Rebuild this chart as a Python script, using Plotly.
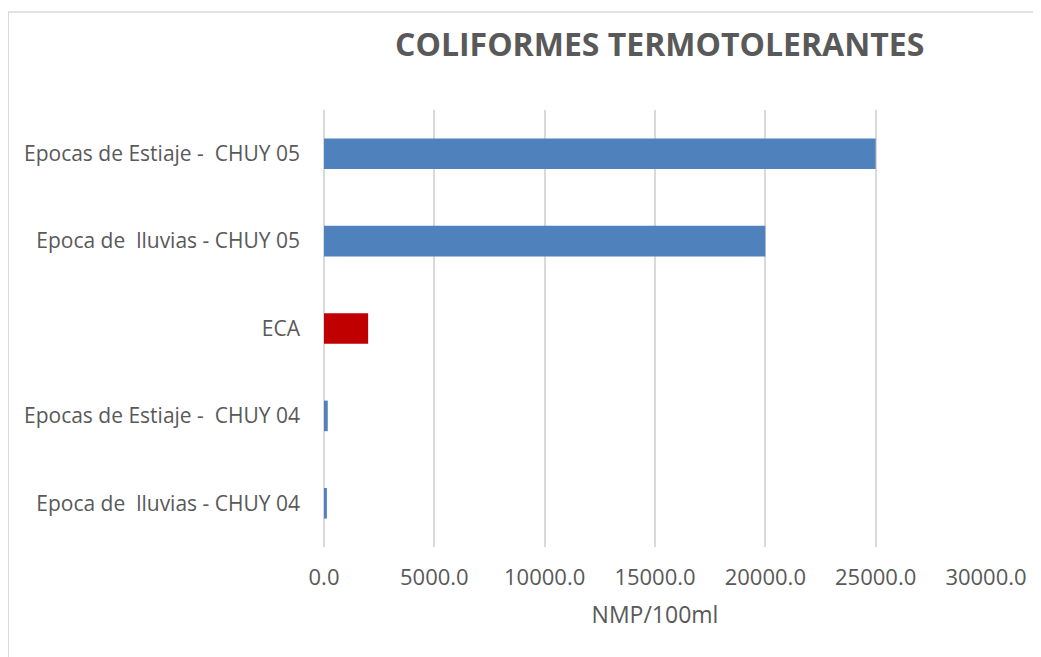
import plotly.graph_objects as go

categories = [
    "Epoca de\u00a0 lluvias - CHUY 04",
    "Epocas de Estiaje -\u00a0 CHUY 04",
    "ECA",
    "Epoca de\u00a0 lluvias - CHUY 05",
    "Epocas de Estiaje -\u00a0 CHUY 05",
]
values = [130, 170, 2000, 20000, 25000]
colors = ["#4f81bd", "#4f81bd", "#c00000", "#4f81bd", "#4f81bd"]
x_ticks = [0, 5000, 10000, 15000, 20000, 25000, 30000]

FONT = "Open Sans, sans-serif"

fig = go.Figure(go.Bar(
    y=categories, x=values, orientation="h",
    marker=dict(color=colors, line=dict(width=0)),
))

fig.update_layout(
    width=1041, height=657,
    margin=dict(l=316, r=63, t=102, b=118),
    paper_bgcolor="white", plot_bgcolor="white",
    bargap=0.65,
    showlegend=False,
    font=dict(family=FONT, color="#595959", size=21),
    title=dict(
        text="<b>COLIFORMES TERMOTOLERANTES</b>",
        x=0.626, xanchor="center", y=0.944, yanchor="middle",
        font=dict(size=32, color="#595959", family=FONT),
    ),
    xaxis=dict(
        range=[0, 30000], tickvals=x_ticks, tickformat=".1f",
        showgrid=True, gridcolor="#d9d9d9", gridwidth=1.5,
        zeroline=True, zerolinecolor="#d9d9d9", zerolinewidth=2,
        showline=False, ticks="", ticklabelstandoff=15,
        tickfont=dict(size=22),
        title=dict(text="NMP/100ml", standoff=16, font=dict(size=23, color="#595959")),
        fixedrange=True,
    ),
    yaxis=dict(
        showgrid=False, zeroline=False, showline=False, ticks="",
        ticklabelstandoff=23, fixedrange=True,
        tickfont=dict(size=21),
    ),
    shapes=[dict(
        type="rect", xref="paper", yref="paper",
        x0=-0.477, x1=2.0, y0=-1.0, y1=1.224,
        line=dict(color="#d9d9d9", width=1.5), fillcolor="rgba(0,0,0,0)",
        layer="below",
    )],
)

fig.write_html("out.html")
